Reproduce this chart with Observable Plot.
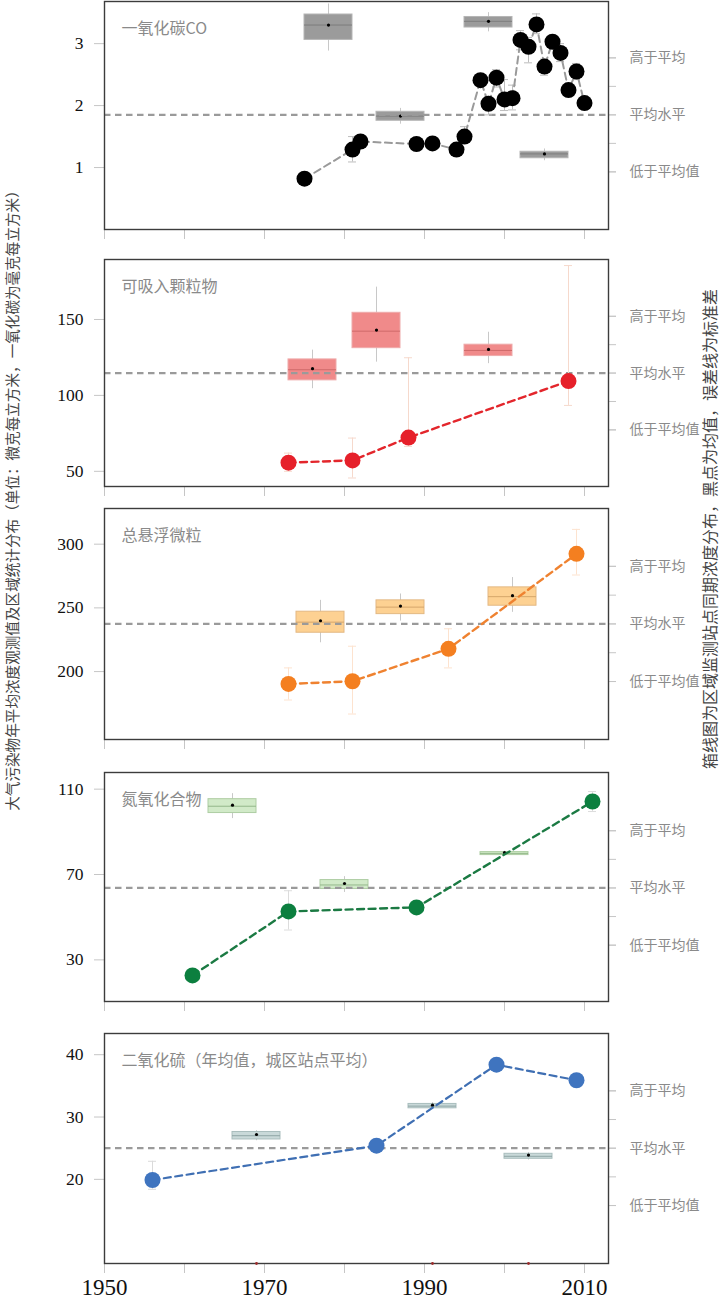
<!DOCTYPE html>
<html><head><meta charset="utf-8">
<script src="https://cdn.jsdelivr.net/npm/d3@7"></script>
<script src="https://cdn.jsdelivr.net/npm/@observablehq/plot@0.6"></script>
<style>
html,body{margin:0;padding:0;background:#fff;}
#chart{position:relative;width:721px;height:1312px;overflow:hidden;font-family:"Noto Sans CJK SC",sans-serif;}
.panel{position:absolute;left:0;}
.side{position:absolute;white-space:nowrap;color:#454545;transform:translate(-50%,-50%) rotate(-90deg);font-family:"Noto Sans CJK SC",sans-serif;line-height:1;}
</style></head><body><div id="chart"></div>
<script>
// ---------- shared axis data ----------
const decadeYears = [1950, 1960, 1970, 1980, 1990, 2000, 2010];
const xLabelYears = [1950, 1970, 1990, 2010];
const rightLabels = ["高于平均", "平均水平", "低于平均值"];
const leftTitle = "大气污染物年平均浓度观测值及区域统计分布（单位：微克每立方米，一氧化碳为毫克每立方米）";
const rightTitle = "箱线图为区域监测站点同期浓度分布，黑点为均值，误差线为标准差";

// ---------- panel 1 ----------
const p1Title = "一氧化碳CO";
const p1YTicks = [1, 2, 3];
const p1Ref = 1.85, p1Step = 0.46;
const p1Years  = [1975,1981,1982,1989,1991,1994,1995,1997,1998,1999,2000,2001,2002,2003,2004,2005,2006,2007,2008,2009,2010];
const p1Values = [0.82,1.29,1.42,1.38,1.39,1.29,1.50,2.41,2.03,2.45,2.10,2.12,3.06,2.95,3.31,2.63,3.03,2.85,2.25,2.55,2.04];
const p1Low    = [0.78,1.09,1.35,1.33,1.34,1.22,1.42,2.33,1.85,2.30,1.92,1.93,2.90,2.69,3.16,2.49,2.95,2.71,2.17,2.42,1.96];
const p1High   = [0.86,1.50,1.48,1.43,1.44,1.36,1.66,2.49,2.15,2.58,2.42,2.33,3.21,3.10,3.48,2.75,3.11,3.00,2.33,2.68,2.12];
const p1BoxYears = [1978, 1987, 1998, 2005];
const p1BoxLow   = [2.88, 1.70, 3.19, 1.11];
const p1BoxQ1    = [3.06, 1.755, 3.26, 1.15];
const p1BoxMed   = [3.30, 1.83, 3.36, 1.22];
const p1BoxQ3    = [3.47, 1.90, 3.43, 1.255];
const p1BoxHigh  = [3.64, 1.955, 3.50, 1.30];
const p1BoxMean  = [3.30, 1.83, 3.36, 1.22];

// ---------- panel 2 ----------
const p2Title = "可吸入颗粒物";
const p2YTicks = [50, 100, 150];
const p2Ref = 114.7, p2Step = 18.7;
const p2Years  = [1973, 1981, 1988, 2008];
const p2Values = [55.7, 57.2, 72.2, 109.4];
const p2Low    = [50.0, 45.6, 66.4, 93.4];
const p2High   = [62.0, 71.9, 124.8, 185.5];
const p2BoxYears = [1976, 1984, 1998];
const p2BoxLow   = [104.4, 121.9, 120.9];
const p2BoxQ1    = [109.9, 131.1, 125.9];
const p2BoxMed   = [116.9, 142.3, 129.6];
const p2BoxQ3    = [123.7, 154.4, 133.4];
const p2BoxHigh  = [129.8, 171.3, 141.6];
const p2BoxMean  = [117.6, 143.0, 130.3];

// ---------- panel 3 ----------
const p3Title = "总悬浮微粒";
const p3YTicks = [200, 250, 300];
const p3Ref = 237.4, p3Step = 22.6;
const p3Years  = [1973, 1981, 1993, 2009];
const p3Values = [190.3, 192.4, 217.9, 292.4];
const p3Low    = [177.7, 166.7, 202.9, 275.8];
const p3High   = [202.9, 219.9, 233.6, 311.6];
const p3BoxYears = [1977, 1987, 2001];
const p3BoxLow   = [222.6, 239.6, 246.5];
const p3BoxQ1    = [230.5, 245.1, 251.7];
const p3BoxMed   = [238.8, 250.6, 258.8];
const p3BoxQ3    = [247.0, 255.9, 266.1];
const p3BoxHigh  = [255.9, 260.9, 273.8];
const p3BoxMean  = [239.9, 251.4, 259.6];

// ---------- panel 4 ----------
const p4Title = "氮氧化合物";
const p4YTicks = [30, 70, 110];
const p4Ref = 63.7, p4Step = 13.4;
const p4Years  = [1961, 1973, 1989, 2011];
const p4Values = [22.7, 52.7, 54.6, 104.2];
const p4Low    = [20.5, 44.0, 52.5, 99.5];
const p4High   = [24.8, 62.4, 56.7, 108.9];
const p4BoxYears = [1966, 1980, 2000];
const p4BoxLow   = [96.2, 61.6, 78.8];
const p4BoxQ1    = [98.8, 63.2, 79.1];
const p4BoxMed   = [102.0, 65.1, 79.9];
const p4BoxQ3    = [105.3, 67.4, 80.5];
const p4BoxHigh  = [107.9, 69.0, 80.9];
const p4BoxMean  = [102.5, 65.8, 80.3];

// ---------- panel 5 ----------
const p5Title = "二氧化硫（年均值，城区站点平均）";
const p5YTicks = [20, 30, 40];
const p5Ref = 25.0, p5Step = 4.6;
const p5Years  = [1956, 1984, 1999, 2009];
const p5Values = [19.9, 25.4, 38.4, 35.9];
const p5Low    = [18.4, 24.6, 37.6, 35.1];
const p5High   = [22.9, 26.3, 39.2, 36.7];
const p5BoxYears = [1969, 1991, 2003];
const p5BoxLow   = [26.2, 31.2, 23.1];
const p5BoxQ1    = [26.4, 31.4, 23.3];
const p5BoxMed   = [27.0, 31.75, 23.7];
const p5BoxQ3    = [27.6, 32.1, 24.1];
const p5BoxHigh  = [27.8, 32.3, 24.3];
const p5BoxMean  = [27.2, 31.9, 23.9];
const p5MarkYears = [1969, 1991, 2003];

// ---------- builders ----------
const series = (ys, vs, lo, hi) => ys.map((year, i) => ({year, value: vs[i], low: lo[i], high: hi[i]}));
const boxes = (ys, lo, q1, med, q3, hi, mean) => ys.map((year, i) => ({year, low: lo[i], q1: q1[i], med: med[i], q3: q3[i], high: hi[i], mean: mean[i]}));

const panels = [
  {top: 1, bottom: 229, yDomain: [0, 3.68], yTicks: p1YTicks, ref: p1Ref, step: p1Step, title: p1Title,
   series: series(p1Years, p1Values, p1Low, p1High),
   boxes: boxes(p1BoxYears, p1BoxLow, p1BoxQ1, p1BoxMed, p1BoxQ3, p1BoxHigh, p1BoxMean),
   dot: "#000000", line: "#9a9a9a", err: "#bdbdbd", boxFill: "#9b9b9b", boxStroke: "#b5b5b5", med: "#7d7d7d", lineW: 2},
  {top: 259, bottom: 486, yDomain: [40, 189.5], yTicks: p2YTicks, ref: p2Ref, step: p2Step, title: p2Title,
   series: series(p2Years, p2Values, p2Low, p2High),
   boxes: boxes(p2BoxYears, p2BoxLow, p2BoxQ1, p2BoxMed, p2BoxQ3, p2BoxHigh, p2BoxMean),
   dot: "#e6202a", line: "#e3262c", err: "#f6d9cc", boxFill: "#f08a8a", boxStroke: "#eeaaaa", med: "#cf6a6a", lineW: 2.4},
  {top: 508, bottom: 739, yDomain: [146.7, 328], yTicks: p3YTicks, ref: p3Ref, step: p3Step, title: p3Title,
   series: series(p3Years, p3Values, p3Low, p3High),
   boxes: boxes(p3BoxYears, p3BoxLow, p3BoxQ1, p3BoxMed, p3BoxQ3, p3BoxHigh, p3BoxMean),
   dot: "#f47f20", line: "#ef8230", err: "#fde3cf", boxFill: "#fdd192", boxStroke: "#e3b883", med: "#d5a66a", lineW: 2.4},
  {top: 772, bottom: 1001, yDomain: [10.5, 117.8], yTicks: p4YTicks, ref: p4Ref, step: p4Step, title: p4Title,
   series: series(p4Years, p4Values, p4Low, p4High),
   boxes: boxes(p4BoxYears, p4BoxLow, p4BoxQ1, p4BoxMed, p4BoxQ3, p4BoxHigh, p4BoxMean),
   dot: "#0c7f3f", line: "#1b7a43", err: "#dcdcdc", boxFill: "#d1eac8", boxStroke: "#aecda3", med: "#93b88a", lineW: 2.4},
  {top: 1033, bottom: 1263, yDomain: [6.5, 43.4], yTicks: p5YTicks, ref: p5Ref, step: p5Step, title: p5Title,
   series: series(p5Years, p5Values, p5Low, p5High),
   boxes: boxes(p5BoxYears, p5BoxLow, p5BoxQ1, p5BoxMed, p5BoxQ3, p5BoxHigh, p5BoxMean),
   dot: "#3f74bf", line: "#3f6fb3", err: "#dadada", boxFill: "#c9d9d9", boxStroke: "#a9bdbd", med: "#8fa5a5", lineW: 2.2,
   marks: p5MarkYears, last: true}
];

const serif = "Liberation Serif, Times New Roman, serif";
const cjk = "Noto Sans CJK SC, sans-serif";
const boxHalf = 3, capHalf = 0.5;
const chart = document.getElementById("chart");
const mTop = 2;

panels.forEach(p => {
  const mBottom = p.last ? 49 : 14;
  const frameH = p.bottom - p.top;
  const rTicks = [-2, -1, 0, 1, 2].map(k => p.ref + k * p.step);
  const rLab = new Map([[rTicks[4], rightLabels[0]], [rTicks[2], rightLabels[1]], [rTicks[0], rightLabels[2]]]);
  const marks = [
    Plot.axisX({ticks: decadeYears, tickSize: 10, stroke: "#c6c6c6", label: null, tickPadding: 5,
      tickFormat: p.last ? (d => xLabelYears.includes(d) ? String(d) : "") : (() => ""),
      fontSize: 23, fontFamily: serif, fill: "#111"}),
    Plot.axisY({ticks: p.yTicks, tickSize: 10, stroke: "#c6c6c6", label: null, tickPadding: 11,
      tickFormat: d => String(d), fontSize: 17.5, fontFamily: serif, fill: "#111"}),
    Plot.axisY({anchor: "right", ticks: rTicks, tickSize: 7, stroke: "#c6c6c6", label: null, tickFormat: () => ""}),
    Plot.axisY({anchor: "right", ticks: [rTicks[4], rTicks[2], rTicks[0]], tickSize: 7, stroke: "#c6c6c6", label: null,
      tickPadding: 14, tickFormat: d => rLab.get(d), fontSize: 14, fontFamily: cjk, fill: "#8a8a8a"}),
    // boxplots
    Plot.ruleX(p.boxes, {x: "year", y1: "low", y2: "high", stroke: "#c8c8c8", strokeWidth: 1}),
    Plot.rect(p.boxes, {x1: d => d.year - boxHalf, x2: d => d.year + boxHalf, y1: "q1", y2: "q3",
      fill: p.boxFill, stroke: p.boxStroke, strokeWidth: 1}),
    Plot.ruleY(p.boxes, {y: "med", x1: d => d.year - boxHalf, x2: d => d.year + boxHalf, stroke: p.med, strokeWidth: 1}),
    Plot.dot(p.boxes, {x: "year", y: "mean", r: 1.6, fill: "#000", stroke: null}),
    // reference line
    Plot.ruleY([p.ref], {stroke: "#9a9a9a", strokeWidth: 2.2, strokeDasharray: "6.5,4.5"}),
    // error bars
    Plot.ruleX(p.series, {x: "year", y1: "low", y2: "high", stroke: p.err, strokeWidth: 1}),
    Plot.ruleY(p.series, {y: "low", x1: d => d.year - capHalf, x2: d => d.year + capHalf, stroke: p.err, strokeWidth: 1}),
    Plot.ruleY(p.series, {y: "high", x1: d => d.year - capHalf, x2: d => d.year + capHalf, stroke: p.err, strokeWidth: 1}),
    // series
    Plot.line(p.series, {x: "year", y: "value", stroke: p.line, strokeWidth: p.lineW, strokeDasharray: "7,4.5"}),
    Plot.dot(p.series, {x: "year", y: "value", r: 8, fill: p.dot, stroke: null}),
    Plot.frame({stroke: "#3c3c3c", strokeWidth: 1.4}),
    Plot.text([p.title], {frameAnchor: "top-left", dx: 17, dy: 27, lineAnchor: "middle", textAnchor: "start",
      fill: "#8a8a8a", fontSize: 16, fontFamily: cjk})
  ];
  if (p.marks) marks.push(Plot.dot(p.marks, {x: d => d, frameAnchor: "bottom", r: 1.4, fill: "#9b2b2b", stroke: null}));
  const svg = Plot.plot({
    width: 721, height: frameH + mTop + mBottom,
    marginLeft: 104, marginRight: 113, marginTop: mTop, marginBottom: mBottom,
    style: {background: "transparent", overflow: "visible", fontFamily: cjk},
    x: {domain: [1950, 2013]},
    y: {domain: p.yDomain},
    marks
  });
  svg.classList.add("panel");
  svg.style.top = (p.top - mTop) + "px";
  chart.appendChild(svg);
});

const left = document.createElement("div");
left.className = "side";
left.style.left = "12px"; left.style.top = "497px"; left.style.fontSize = "14.6px";
left.textContent = leftTitle;
chart.appendChild(left);
const right = document.createElement("div");
right.className = "side";
right.style.left = "709px"; right.style.top = "529px"; right.style.fontSize = "16px";
right.textContent = rightTitle;
chart.appendChild(right);
</script></body></html>
